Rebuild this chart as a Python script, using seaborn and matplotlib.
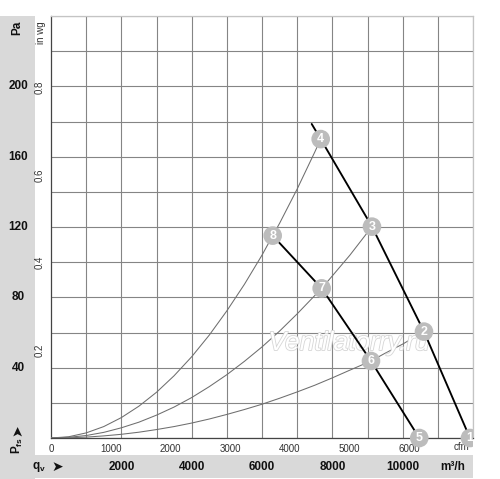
import numpy as np
import pandas as pd
import matplotlib
matplotlib.use("Agg")
import matplotlib.pyplot as plt
import seaborn as sns
from matplotlib.patches import Rectangle
import matplotlib.patheffects as pe

# ---------------- data ----------------
fan_high_q = [7413, 7669, 9127, 10606, 11914]
fan_high_p = [178.6, 170.0, 120.2, 60.5, 0.0]
fan_low_q = [6304, 7697, 9099, 10472]
fan_low_p = [115.1, 85.1, 43.8, 0.0]

sys_a_q = [0, 500, 1000, 1500, 2000, 2500, 3000, 3500, 4000, 4500, 5000, 5500,
           6000, 6304, 6500, 7000, 7500, 7669]
sys_a_p = [0, 0.7, 2.9, 6.5, 11.6, 18.1, 26.0, 35.4, 46.2, 58.5, 72.3, 87.4,
           104.0, 115.1, 122.1, 141.6, 162.6, 170.0]
sys_b_q = [0, 500, 1000, 1500, 2000, 2500, 3000, 3500, 4000, 4500, 5000, 5500,
           6000, 6500, 7000, 7697, 8000, 8500, 9127]
sys_b_p = [0, 0.4, 1.4, 3.2, 5.8, 9.0, 13.0, 17.6, 23.0, 29.2, 36.0, 43.6,
           51.8, 60.8, 70.6, 85.1, 92.2, 104.0, 120.2]
sys_c_q = [0, 500, 1000, 1500, 2000, 2500, 3000, 3500, 4000, 4500, 5000, 5500,
           6000, 6500, 7000, 7500, 8000, 8500, 9099, 9500, 10000, 10606]
sys_c_p = [0, 0.1, 0.5, 1.2, 2.1, 3.3, 4.8, 6.5, 8.5, 10.8, 13.4, 16.2,
           19.2, 22.6, 26.2, 30.0, 34.2, 38.6, 43.8, 48.2, 53.4, 60.5]

point_labels = ["1", "2", "3", "4", "5", "6", "7", "8"]
point_q = [11914, 10606, 9127, 7669, 10472, 9099, 7697, 6304]
point_p = [0.0, 60.5, 120.2, 170.0, 0.0, 43.8, 85.1, 115.1]

pa_ticks = [40, 80, 120, 160, 200]
inwg_ticks = [0.2, 0.4, 0.6, 0.8]
cfm_ticks = [0, 1000, 2000, 3000, 4000, 5000, 6000]
m3h_ticks = [2000, 4000, 6000, 8000, 10000]

PA_PER_INWG = 249.09
M3H_PER_CFM = 1.699

# ---------------- style ----------------
sns.set_style("white")
plt.rcParams["font.family"] = ["Liberation Sans", "DejaVu Sans"]
plt.rcParams["mathtext.fontset"] = "custom"
plt.rcParams["mathtext.rm"] = "Liberation Sans"
plt.rcParams["mathtext.bf"] = "Liberation Sans:bold"
plt.rcParams["mathtext.it"] = "Liberation Sans:italic"

W, H = 500, 479
fig = plt.figure(figsize=(W / 100, H / 100), dpi=100)
fig.patch.set_facecolor("white")

band = "#d9d9d9"
fig.add_artist(Rectangle((0, 0), 35 / W, (H - 16) / H, transform=fig.transFigure,
                         color=band, zorder=-1, lw=0))
fig.add_artist(Rectangle((0, 1 / H), 473 / W, 23 / H, transform=fig.transFigure,
                         color=band, zorder=-1, lw=0))

ax = fig.add_axes([51 / W, (H - 438) / H, 422 / W, 422 / H])
ax.set_facecolor("white")
ax.set_xlim(0, 12000)
ax.set_ylim(0, 240)

# grid via minor ticks
ax.set_xticks(np.arange(0, 12001, 1000), minor=True)
ax.set_yticks(np.arange(0, 241, 20), minor=True)
ax.grid(which="minor", color="#858585", lw=0.8, zorder=1)
ax.grid(which="major", visible=False)
ax.tick_params(which="minor", length=0)

# cfm ticks on bottom
ax.set_xticks([c * M3H_PER_CFM for c in cfm_ticks])
ax.set_xticklabels([str(c) for c in cfm_ticks])
ax.tick_params(axis="x", which="major", direction="out", length=2.5, width=0.6,
               color="#444444", labelsize=7, labelcolor="#333333", pad=1.5)
# in wg ticks on left
ax.set_yticks([v * PA_PER_INWG for v in inwg_ticks])
ax.set_yticklabels([f"{v:.1f}" for v in inwg_ticks], rotation=90, va="center")
ax.tick_params(axis="y", which="major", direction="out", length=2.5, width=0.6,
               color="#444444", labelsize=7, labelcolor="#333333", pad=2)

for side in ["left", "bottom"]:
    ax.spines[side].set_color("#444444")
    ax.spines[side].set_linewidth(0.9)
for side in ["top", "right"]:
    ax.spines[side].set_color("#c4c4c4")
    ax.spines[side].set_linewidth(0.9)

# ---------------- curves ----------------
sys_df = pd.concat([
    pd.DataFrame({"q": sys_a_q, "p": sys_a_p, "curve": "A"}),
    pd.DataFrame({"q": sys_b_q, "p": sys_b_p, "curve": "B"}),
    pd.DataFrame({"q": sys_c_q, "p": sys_c_p, "curve": "C"}),
])
fan_df = pd.concat([
    pd.DataFrame({"q": fan_high_q, "p": fan_high_p, "curve": "high"}),
    pd.DataFrame({"q": fan_low_q, "p": fan_low_p, "curve": "low"}),
])

sns.lineplot(data=sys_df, x="q", y="p", units="curve", estimator=None, sort=False,
             color="#6e6e6e", lw=0.75, ax=ax, zorder=3)
sns.lineplot(data=fan_df, x="q", y="p", units="curve", estimator=None, sort=False,
             color="black", lw=1.35, ax=ax, zorder=4)
ax.set_xlabel("")
ax.set_ylabel("")

# watermark
ax.text(8473, 54, "Ventilatorry.ru", fontsize=19, style="italic", color="white",
        ha="center", va="center", zorder=3.5,
        path_effects=[pe.withStroke(linewidth=1.2, foreground="#d6d6d6")])

# numbered markers
clip_rect = Rectangle((0, -0.1), 1, 1.2, transform=ax.transAxes)
sc = ax.scatter(point_q, point_p, s=180, color="#bcbcbc", edgecolor="none",
                zorder=6, clip_on=True)
sc.set_clip_path(clip_rect)
for lab, q, p in zip(point_labels, point_q, point_p):
    t = ax.text(q, p, lab, color="white", fontsize=9, weight="bold",
                ha="center", va="center", zorder=7)
    t.set_clip_on(True)
    t.set_clip_path(clip_rect)

# ---------------- outer labels ----------------
ytr = ax.get_yaxis_transform()
xtr = ax.get_xaxis_transform()
for v in pa_ticks:
    ax.text(-0.078, v, str(v), transform=ytr, ha="center", va="center",
            fontsize=8.5, weight="bold", color="#111111", clip_on=False)
for v in m3h_ticks:
    ax.text(v, -0.0687, str(v), transform=xtr, ha="center", va="center",
            fontsize=8.5, weight="bold", color="#111111", clip_on=False)

ax.text(11430, -0.0687, "m³/h", transform=xtr, ha="center", va="center",
        fontsize=8.5, weight="bold", color="#111111", clip_on=False)
ax.text(11660, -0.0215, "cfm", transform=xtr, ha="center", va="center",
        fontsize=7, color="#333333", clip_on=False)

fig.text(17 / W, (H - 28) / H, "Pa", rotation=90, ha="center", va="center",
         fontsize=8.5, weight="bold", color="#111111")
fig.text(41.5 / W, (H - 33) / H, "in wg", rotation=90, ha="center", va="center",
         fontsize=7, color="#333333")
fig.text(17 / W, (H - 445) / H, r"$\mathbf{P}_{\mathbf{fs}}$", rotation=90,
         ha="center", va="center", fontsize=8.5, color="#111111")
fig.text(17 / W, (H - 430) / H, "➤", rotation=90, ha="center", va="center",
         fontsize=10, color="#111111", family="DejaVu Sans")
fig.text(39 / W, (H - 467) / H, r"$\mathbf{q}_{\mathbf{v}}$", ha="center",
         va="center", fontsize=8.5, color="#111111")
fig.text(57 / W, (H - 467) / H, "➤", ha="center", va="center",
         fontsize=10, color="#111111", family="DejaVu Sans")

fig.savefig("out.png", dpi=100)
